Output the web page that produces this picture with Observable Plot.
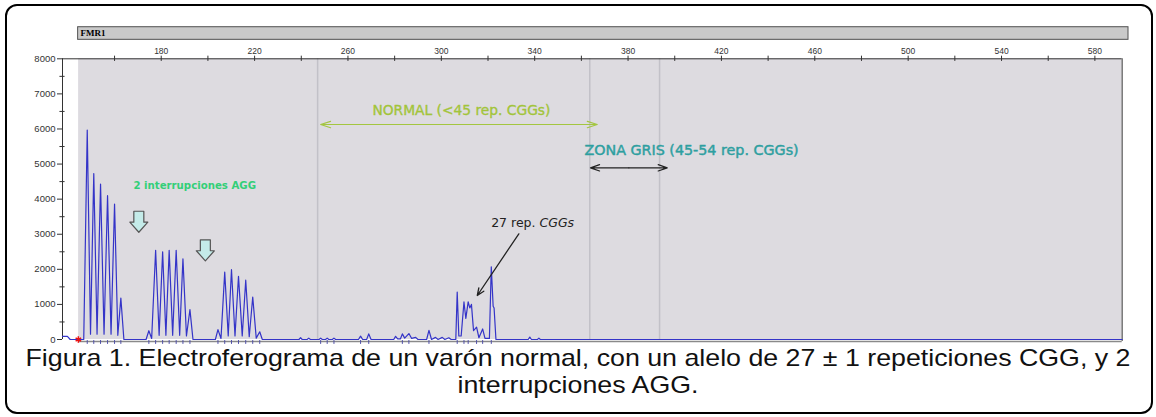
<!DOCTYPE html>
<html><head><meta charset="utf-8">
<script src="https://cdn.jsdelivr.net/npm/d3@7"></script>
<script src="https://cdn.jsdelivr.net/npm/@observablehq/plot@0.6"></script>
<style>
html,body{margin:0;padding:0;background:#fff;}
#wrap{position:relative;width:1156px;height:417px;overflow:hidden;}
#frame{position:absolute;left:5px;top:4px;width:1144px;height:406px;border:2px solid #000;border-radius:12px;}
#chart{position:absolute;left:0;top:0;}
#caption{position:absolute;left:0;width:1156px;top:344px;text-align:center;font-family:"Liberation Sans",Arial,sans-serif;font-size:24px;line-height:27px;color:#111;white-space:nowrap;transform:scaleX(1.115);transform-origin:578px 0;}
</style></head><body>
<div id="wrap"><div id="frame"></div><div id="chart"></div>
<div id="caption">Figura 1. Electroferograma de un varón normal, con un alelo de 27 ± 1 repeticiones CGG, y 2<br>interrupciones AGG.</div></div>
<script>
// ---- data ----
const sizeTicks = [160,180,200,220,240,260,280,300,320,340,360,380,400,420,440,460,480,500,520,540,560,580];
const sizeLabels = [180,220,260,300,340,380,420,460,500,540,580];
const rfuTicks = [0,1000,2000,3000,4000,5000,6000,7000,8000];
const rfuMinor = [500,1500,2500,3500,4500,5500,6500,7500];
const traceBp = [137.7,139.8,141.0,146.8,
 148.3,149.7,151.1,152.5,154.0,155.5,157.0,158.5,160.0,161.4,162.7,164.0,
 173.5,174.7,175.9,177.6,179.1,180.6,182.0,183.4,184.9,186.4,187.9,189.3,190.8,192.3,193.6,
 203.2,204.3,205.6,207.2,208.7,210.1,211.6,213.1,214.7,216.2,217.7,219.2,220.7,222.2,223.3,
 239.0,239.7,240.4,242.5,243.2,243.9,247.6,248.3,249.0,250.4,251.1,251.8,253.3,254.0,254.7,
 264.5,265.4,266.3,268.0,268.9,269.9,279.6,280.4,281.3,282.5,283.3,284.3,286.1,287.3,289.0,290.0,
 293.7,294.7,295.8,297.5,298.6,300.4,301.5,303.2,304.2,
 306.2,306.8,307.5,308.5,309.7,310.5,311.5,312.2,312.9,313.8,315.1,316.1,317.7,318.7,
 320.6,321.4,322.2,322.6,323.4,337.2,337.9,338.6,341.2,341.8,342.4,591.7];
const traceRfu = [90,90,0,0,
 5970,150,4730,150,4430,150,4100,150,3860,120,1180,0,
 0,250,30,2540,120,2500,120,2540,120,2540,120,2300,100,850,0,
 0,280,30,1920,100,1990,100,1800,100,1690,80,1210,40,220,0,
 0,50,0,0,40,0,0,40,0,0,40,0,0,40,0,
 0,95,0,0,160,0,0,90,20,20,160,40,170,30,60,0,
 0,260,0,60,0,60,0,50,0,
 0,1350,100,100,1070,600,1070,900,1000,250,350,50,300,30,
 30,2070,950,900,0,0,70,0,0,40,0,0];
const markerBp = [148.3,151.1,154.0,157.0,160.0,162.7,174.7,177.6,180.6,183.4,186.4,189.3,192.3,
 204.3,207.2,210.1,213.1,216.2,219.2,222.2,248.3,251.1,254.0,265.4,268.9,283.3,286.1,294.7,
 306.8,309.7,311.5,315.1,317.7,321.4];
const regionBounds = [247.0, 363.6, 393.5];
const sampleStart = [144.5];
const geneLabel = ["FMR1"];

const trace = traceBp.map((bp, i) => ({bp, rfu: traceRfu[i]}));

const blockArrow = {
  draw(ctx, l) {
    const w = 5, hw = 9, s = l * 0.52;
    ctx.moveTo(-w, 0); ctx.lineTo(-w, -s); ctx.lineTo(-hw, -s);
    ctx.lineTo(0, -l); ctx.lineTo(hw, -s); ctx.lineTo(w, -s); ctx.lineTo(w, 0); ctx.closePath();
  }
};
const comic = '"DejaVu Sans",sans-serif';
const axisFont = '"Liberation Sans",Arial,sans-serif';

const chart = Plot.plot({
  width: 1156, height: 345,
  marginTop: 58.3, marginBottom: 6, marginLeft: 62, marginRight: 34.3,
  x: {domain: [137.7, 591.7]},
  y: {domain: [0, 8000]},
  style: {background: "transparent", overflow: "visible"},
  marks: [
    // gene bar
    Plot.rect(geneLabel, {x1: 144.4, x2: 594.4, y1: 8541, y2: 8900, fill: "#c9c9c9", stroke: "#505050", strokeWidth: 1}),
    Plot.text(geneLabel, {x: 145.4, y: 8720, text: d => d, textAnchor: "start", fontFamily: '"Liberation Serif",serif', fontWeight: "bold", fontSize: 9, fill: "#000"}),
    // plot background
    Plot.rect(geneLabel, {x1: 144.6, x2: 591.7, y1: 0, y2: 8000, fill: "#dddbe0"}),
    Plot.ruleX(regionBounds, {y1: 0, y2: 8000, stroke: "#c2c1c8", strokeWidth: 1.5}),
    // frame lines
    Plot.ruleY([8000], {x1: 137.7, x2: 591.7, stroke: "#333"}),
    Plot.ruleX([137.7], {y1: 0, y2: 8000, stroke: "#333"}),
    Plot.ruleX([591.7], {y1: -60, y2: 8000, stroke: "#777", strokeWidth: 1.5}),
    Plot.ruleY([-60], {x1: 144.6, x2: 591.7, stroke: "#8a8a8a", strokeWidth: 1.5}),
    // ticks
    Plot.ruleX(sizeTicks, {y1: 7925, y2: 8075, stroke: "#333"}),
    Plot.ruleY(rfuMinor, {x1: 136.6, x2: 138.8, stroke: "#333"}),
    Plot.axisX(sizeLabels, {anchor: "top", tickSize: 0, tickPadding: 5, tickFormat: d => String(d), fontSize: 8.5, fontFamily: '"Liberation Sans Narrow","Liberation Sans",sans-serif', color: "#333", label: null}),
    Plot.axisY(rfuTicks, {anchor: "left", tickSize: 5, tickPadding: 2, tickFormat: d => String(d), fontSize: 9.5, fontFamily: axisFont, color: "#333", label: null}),
    // trace
    Plot.ruleX(markerBp, {y1: -30, y2: -140, stroke: "#5050a8"}),
    Plot.line(trace, {x: "bp", y: "rfu", stroke: "#3434c8", strokeWidth: 1.2}),
    Plot.dot(sampleStart, {x: d => d, y: 0, symbol: "asterisk", stroke: "#ee1111", r: 3, strokeWidth: 1.5}),
    // annotations
    Plot.text(["NORMAL (<45 rep. CGGs)"], {x: 308.6, y: 6526, text: d => d, fontFamily: comic, fontSize: 13.8, fill: "#a2c43a", stroke: "#a2c43a", strokeWidth: 0.35}),
    Plot.arrow([0], {x1: 307.55, x2: 248.3, y1: 6127, y2: 6127, stroke: "#a3c640", strokeWidth: 1.2, headLength: 13, headAngle: 36}),
    Plot.arrow([0], {x1: 307.55, x2: 366.8, y1: 6127, y2: 6127, stroke: "#a3c640", strokeWidth: 1.2, headLength: 13, headAngle: 36}),
    Plot.text(["ZONA GRIS (45-54 rep. CGGs)"], {x: 407.2, y: 5386, text: d => d, fontFamily: comic, fontSize: 14.3, fill: "#2e9fa0", stroke: "#2e9fa0", strokeWidth: 0.45}),
    Plot.arrow([0], {x1: 380.35, x2: 363.9, y1: 4893, y2: 4893, stroke: "#222", strokeWidth: 1.2, headLength: 12, headAngle: 38}),
    Plot.arrow([0], {x1: 380.35, x2: 396.8, y1: 4893, y2: 4893, stroke: "#222", strokeWidth: 1.2, headLength: 12, headAngle: 38}),
    Plot.text(["2 interrupciones AGG"], {x: 194.35, y: 4389, text: d => d, fontFamily: comic, fontWeight: "bold", fontSize: 10.2, fill: "#33cf78"}),
    Plot.vector([170.4, 198.9], {x: d => d, y: (d, i) => [3655, 2840][i], length: 21, rotate: 180, anchor: "start", shape: blockArrow, fill: "#c4ebe9", stroke: "#555", strokeWidth: 1.2}),
    Plot.text(["27 rep."], {x: 341.2, y: 3314, dx: -2, text: d => d, textAnchor: "end", fontFamily: comic, fontSize: 12.5, fill: "#222"}),
    Plot.text(["CGGs"], {x: 341.2, y: 3314, dx: 2, text: d => d, textAnchor: "start", fontFamily: comic, fontStyle: "italic", fontSize: 12.5, fill: "#222"}),
    Plot.arrow([0], {x1: 333.2, y1: 3011, x2: 315.4, y2: 1254, stroke: "#222", strokeWidth: 1.3, headLength: 9, headAngle: 45})
  ]
});
document.getElementById("chart").appendChild(chart);
</script>
</body></html>
